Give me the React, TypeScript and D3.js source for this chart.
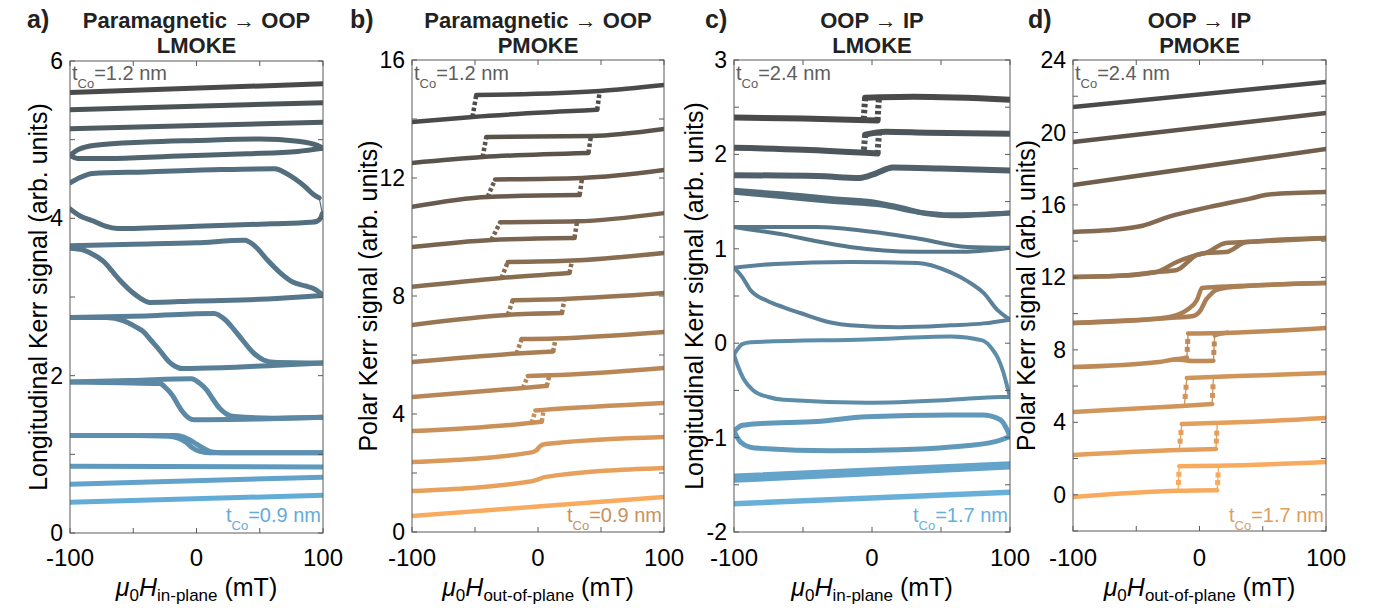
import React from 'react';
import * as d3 from 'd3';

type Pt = [number, number];
type Jump = [number, number, number, number, number]; // curve index, f1, v1, f2, v2

const fieldTicks = [-100, -50, 0, 50, 100];
const fieldLabels = [-100, 0, 100];

// ---------- Panel a : Paramagnetic -> OOP, LMOKE ----------
const aYTicks = [0, 1, 2, 3, 4, 5, 6];
const aYLabels = [0, 2, 4, 6];
const aCurves: Pt[][][] = [
  [[[-100, 5.60], [100, 5.71]]],
  [[[-100, 5.38], [100, 5.47]]],
  [[[-100, 5.14], [100, 5.22]]],
  [
    [[-100, 4.80], [-94, 4.87], [-80, 4.93], [-40, 4.97], [0, 4.99], [50, 5.01], [80, 4.98], [95, 4.93], [100, 4.89]],
    [[-100, 4.80], [-94, 4.76], [-70, 4.76], [-20, 4.79], [40, 4.82], [80, 4.85], [100, 4.89]],
  ],
  [
    [[-100, 4.45], [-92, 4.52], [-82, 4.57], [-40, 4.59], [20, 4.62], [62, 4.63], [70, 4.58], [78, 4.50], [86, 4.40], [92, 4.31], [97, 4.26]],
    [[-100, 4.12], [-92, 4.03], [-82, 3.97], [-72, 3.90], [-62, 3.87], [0, 3.90], [60, 3.93], [90, 3.95], [95, 3.96], [98, 4.0], [99.5, 4.06]],
  ],
  [
    [[-100, 3.65], [-50, 3.67], [0, 3.69], [38, 3.72], [46, 3.65], [56, 3.47], [66, 3.31], [76, 3.19], [86, 3.14], [92, 3.11], [97, 3.06], [100, 3.02]],
    [[-100, 3.62], [-90, 3.60], [-84, 3.56], [-74, 3.46], [-61, 3.22], [-50, 3.05], [-44, 2.98], [-37, 2.93], [0, 2.95], [50, 2.97], [82, 3.0], [100, 3.02]],
  ],
  [
    [[-100, 2.74], [-40, 2.76], [14, 2.79], [22, 2.72], [30, 2.58], [36, 2.46], [45, 2.29], [53, 2.20], [61, 2.17], [100, 2.16]],
    [[-100, 2.74], [-71, 2.74], [-58, 2.70], [-48, 2.62], [-42, 2.56], [-36, 2.45], [-29, 2.32], [-22, 2.18], [-17, 2.12], [-11, 2.09], [20, 2.10], [60, 2.13], [100, 2.16]],
  ],
  [
    [[-100, 1.92], [-50, 1.94], [-4, 1.96], [2, 1.91], [8, 1.82], [13, 1.70], [18, 1.59], [24, 1.51], [30, 1.48], [60, 1.46], [100, 1.47]],
    [[-100, 1.92], [-60, 1.91], [-29, 1.90], [-24, 1.84], [-19, 1.75], [-15, 1.64], [-11, 1.54], [-6, 1.46], [-2, 1.44], [50, 1.45], [100, 1.47]],
  ],
  [
    [[-100, 1.24], [-50, 1.24], [-16, 1.24], [-10, 1.22], [-5, 1.18], [0, 1.13], [5, 1.08], [12, 1.03], [20, 1.02], [100, 1.02]],
    [[-100, 1.24], [-50, 1.24], [-22, 1.23], [-15, 1.21], [-8, 1.15], [-3, 1.08], [2, 1.04], [10, 1.02], [100, 1.02]],
  ],
  [[[-100, 0.85], [100, 0.84]]],
  [[[-100, 0.62], [100, 0.71]]],
  [[[-100, 0.39], [100, 0.48]]],
];
const aJumps: Jump[] = [[4, 97, 4.26, 99.5, 4.06]];

// ---------- Panel b : Paramagnetic -> OOP, PMOKE ----------
const bYTicks = [0, 2, 4, 6, 8, 10, 12, 14, 16];
const bYLabels = [0, 4, 8, 12, 16];
const bCurves: Pt[][][] = [
  [[[-100, 13.90], [-52, 14.07], [47, 14.31]], [[-49, 14.81], [49, 14.95], [100, 15.15]]],
  [[[-100, 12.51], [-44, 12.71], [40, 12.85]], [[-41, 13.39], [42, 13.42], [100, 13.66]]],
  [[[-100, 11.02], [-40, 11.36], [33, 11.42]], [[-34, 11.95], [35, 12.0], [100, 12.27]]],
  [[[-100, 9.66], [-37, 9.90], [29, 9.97]], [[-30, 10.50], [31, 10.53], [100, 10.81]]],
  [[[-100, 8.31], [-29, 8.61], [25, 8.78]], [[-24, 9.15], [27, 9.20], [100, 9.46]]],
  [[[-100, 7.02], [-24, 7.36], [19, 7.42]], [[-20, 7.86], [21, 7.90], [100, 8.10]]],
  [[[-100, 5.76], [-17, 6.05], [12, 6.12]], [[-13, 6.54], [14, 6.56], [100, 6.78]]],
  [[[-100, 4.58], [-12, 4.88], [7, 4.95]], [[-8, 5.29], [9, 5.31], [100, 5.56]]],
  [[[-100, 3.42], [-5, 3.70], [3, 3.74]], [[-2, 4.12], [4.5, 4.14], [100, 4.37]]],
  [[[-100, 2.37], [-5, 2.70], [-1, 2.78], [2, 2.92], [6, 2.98], [100, 3.22]]],
  [[[-100, 1.39], [-5, 1.72], [0, 1.78], [5, 1.86], [100, 2.17]]],
  [[[-100, 0.54], [100, 1.19]]],
];
const bJumps: Jump[] = [
  [0, -52, 14.07, -49, 14.81], [0, 47, 14.31, 49, 14.95],
  [1, -44, 12.71, -41, 13.39], [1, 40, 12.85, 42, 13.42],
  [2, -40, 11.36, -34, 11.95], [2, 33, 11.42, 35, 12.0],
  [3, -37, 9.90, -30, 10.50], [3, 29, 9.97, 31, 10.53],
  [4, -29, 8.61, -24, 9.15], [4, 25, 8.78, 27, 9.20],
  [5, -24, 7.36, -20, 7.86], [5, 19, 7.42, 21, 7.90],
  [6, -17, 6.05, -13, 6.54], [6, 12, 6.12, 14, 6.56],
  [7, -12, 4.88, -8, 5.29], [7, 7, 4.95, 9, 5.31],
  [8, -5, 3.70, -2, 4.12], [8, 3, 3.74, 4.5, 4.14],
];

// ---------- Panel c : OOP -> IP, LMOKE ----------
const cYTicks = [-2, -1.5, -1, -0.5, 0, 0.5, 1, 1.5, 2, 2.5, 3];
const cYLabels = [-2, -1, 0, 1, 2, 3];
const cCurves: Pt[][][] = [
  [[[-100, 2.39], [-50, 2.38], [4, 2.36]], [[-5, 2.60], [30, 2.61], [100, 2.58]]],
  [[[-100, 2.07], [-50, 2.05], [4, 2.01]], [[-5, 2.21], [10, 2.24], [40, 2.23], [100, 2.22]]],
  [[[-100, 1.78], [-40, 1.77], [-9, 1.75], [3, 1.80], [15, 1.86], [50, 1.85], [100, 1.83]]],
  [
    [[-100, 1.60], [-64, 1.55], [-28, 1.50], [8, 1.46], [33, 1.39], [57, 1.36], [100, 1.38]],
    [[-100, 1.62], [-64, 1.58], [-28, 1.53], [0, 1.50], [20, 1.44], [40, 1.37], [57, 1.35], [100, 1.38]],
  ],
  [
    [[-100, 1.23], [-40, 1.23], [0, 1.18], [33, 1.11], [69, 1.02], [100, 1.01]],
    [[-100, 1.23], [-82, 1.19], [-64, 1.15], [-40, 1.08], [-16, 1.02], [33, 0.97], [69, 0.97], [100, 1.01]],
  ],
  [
    [[-100, 0.80], [-70, 0.84], [-16, 0.86], [33, 0.85], [57, 0.75], [70, 0.65], [81, 0.53], [91, 0.35], [98, 0.27], [100, 0.25]],
    [[-100, 0.80], [-94, 0.70], [-88, 0.56], [-76, 0.45], [-64, 0.38], [-52, 0.32], [-30, 0.22], [-16, 0.19], [20, 0.17], [57, 0.19], [81, 0.21], [100, 0.25]],
  ],
  [
    [[-100, -0.12], [-94, -0.01], [-88, 0.01], [-4, 0.04], [57, 0.07], [80, 0.03], [88, -0.08], [91, -0.15], [95, -0.30], [98, -0.46], [100, -0.57]],
    [[-100, -0.12], [-97, -0.25], [-93, -0.38], [-86, -0.50], [-75, -0.57], [-64, -0.60], [-4, -0.63], [57, -0.60], [93, -0.57], [100, -0.57]],
  ],
  [
    [[-100, -0.93], [-94, -0.87], [-80, -0.85], [-40, -0.83], [-4, -0.78], [57, -0.76], [80, -0.76], [93, -0.81], [98, -0.92], [100, -0.99]],
    [[-100, -0.93], [-95, -1.05], [-85, -1.11], [-30, -1.14], [20, -1.13], [57, -1.10], [90, -1.04], [100, -0.99]],
  ],
  [[[-100, -1.45], [100, -1.31]], [[-100, -1.41], [100, -1.28]]],
  [[[-100, -1.70], [100, -1.58]]],
];
const cJumps: Jump[] = [
  [0, -5, 2.60, -6, 2.37], [0, 4, 2.36, 5, 2.60],
  [1, -5, 2.21, -6, 2.02], [1, 4, 2.01, 5, 2.21],
];

// ---------- Panel d : OOP -> IP, PMOKE ----------
const dYTicks = [-2, 0, 2, 4, 6, 8, 10, 12, 14, 16, 18, 20, 22, 24];
const dYLabels = [0, 4, 8, 12, 16, 20, 24];
const dCurves: Pt[][][] = [
  [[[-100, 21.41], [100, 22.79]]],
  [[[-100, 19.47], [100, 21.07]]],
  [[[-100, 17.10], [100, 19.09]]],
  [[[-100, 14.51], [-60, 14.68], [-45, 14.85], [-24, 15.35], [8, 15.89], [40, 16.35], [55, 16.58], [100, 16.71]]],
  [
    [[-100, 12.02], [-60, 12.10], [-34, 12.30], [-18, 12.85], [-2, 13.24], [5, 13.35], [21, 13.90], [37, 13.95], [100, 14.17]],
    [[-100, 12.02], [-60, 12.10], [-34, 12.30], [-18, 12.41], [-2, 13.24], [5, 13.35], [21, 13.40], [37, 13.95], [100, 14.17]],
  ],
  [
    [[-100, 9.48], [-37, 9.70], [-24, 9.81], [-10, 10.20], [-2, 10.75], [2, 11.41], [30, 11.52], [100, 11.69]],
    [[-100, 9.48], [-37, 9.70], [-24, 9.76], [-5, 9.87], [1, 10.20], [5, 10.75], [8, 11.0], [13, 11.30], [26, 11.47], [100, 11.69]],
  ],
  [
    [[-100, 7.05], [-32, 7.33], [-18, 7.47], [-5, 7.38], [11, 7.40]],
    [[-20, 7.48], [-14, 7.52], [-10, 7.58]],
    [[-9, 8.90], [10, 8.92], [100, 9.21]],
    [[12, 8.80], [16, 8.88], [22, 8.95]],
  ],
  [[[-100, 4.57], [-14, 4.90], [10, 5.01]], [[-10, 6.45], [30, 6.55], [100, 6.72]]],
  [[[-100, 2.20], [-16, 2.47], [13, 2.53]], [[-14, 3.91], [30, 4.0], [100, 4.24]]],
  [[[-100, -0.12], [-17, 0.22], [14, 0.25]], [[-16, 1.58], [15, 1.60], [100, 1.81]]],
];
const dJumps: Jump[] = [
  [6, -9, 8.90, -10, 7.58], [6, 11, 7.40, 12, 8.80],
  [7, -10, 6.45, -12, 4.90], [7, 10, 5.01, 11, 6.45],
  [8, -14, 3.91, -16, 2.47], [8, 13, 2.53, 14, 3.85],
  [9, -16, 1.58, -17, 0.22], [9, 14, 0.25, 15, 1.53],
];

type PanelDef = {
  id: string; curves: Pt[][][]; jumps: Jump[];
  x0: number; x1: number; y0: number; y1: number;
  yDomain: [number, number]; yTicks: number[]; yLabels: number[];
  c0: string; c1: string; widths: number[] | number; jumpStyle: 'thin' | 'dash' | 'marker';
  label: string; labelX: number; title1: string; title2: string;
  yTitle: string; yTitleX: number; xSub: string;
  topLabel: string; botLabel: string; botColor: string;
};

const FONT = "'Liberation Sans', Arial, Helvetica, sans-serif";

function Panel({ p }: { p: PanelDef }) {
  const x = d3.scaleLinear().domain([-100, 100]).range([p.x0, p.x1]);
  const y = d3.scaleLinear().domain(p.yDomain).range([p.y1, p.y0]);
  const n = p.curves.length;
  const interp = d3.interpolateRgb(p.c0, p.c1);
  const color = (i: number) => interp(n > 1 ? i / (n - 1) : 0);
  const width = (i: number) => (Array.isArray(p.widths) ? p.widths[i] : p.widths);
  const line = d3.line<Pt>().x(d => x(d[0])).y(d => y(d[1])).curve(d3.curveMonotoneX);
  const cx = (p.x0 + p.x1) / 2;
  const cy = (p.y0 + p.y1) / 2;
  const clipId = `clip-${p.id}`;
  const frame = '#5a5a5a';
  const tl = 5;

  return (
    <g>
      <defs>
        <clipPath id={clipId}>
          <rect x={p.x0} y={p.y0} width={p.x1 - p.x0} height={p.y1 - p.y0} />
        </clipPath>
      </defs>
      <g clipPath={`url(#${clipId})`}>
        {p.curves.map((curve, ci) =>
          curve.map((br, bi) => (
            <path key={`${ci}-${bi}`} d={line(br) || ''} fill="none" stroke={color(ci)}
              strokeWidth={width(ci)} strokeLinecap="round" strokeLinejoin="round" />
          ))
        )}
        {p.jumps.map(([ci, f1, v1, f2, v2], k) => {
          const c = color(ci);
          if (p.jumpStyle === 'thin') {
            return <line key={k} x1={x(f1)} y1={y(v1)} x2={x(f2)} y2={y(v2)} stroke={c} strokeWidth={1.2} />;
          }
          if (p.jumpStyle === 'dash') {
            return <line key={k} x1={x(f1)} y1={y(v1)} x2={x(f2)} y2={y(v2)} stroke={c}
              strokeWidth={width(ci)} strokeDasharray="3.5 2.5" />;
          }
          const ts = [0.33, 0.66];
          return (
            <g key={k}>
              <line x1={x(f1)} y1={y(v1)} x2={x(f2)} y2={y(v2)} stroke={c} strokeWidth={1.3} />
              {ts.map(t => (
                <rect key={t} x={x(f1 + (f2 - f1) * t) - 2.5} y={y(v1 + (v2 - v1) * t) - 2.5}
                  width={5} height={5} fill={c} />
              ))}
            </g>
          );
        })}
      </g>
      <rect x={p.x0} y={p.y0} width={p.x1 - p.x0} height={p.y1 - p.y0} fill="none" stroke={frame} strokeWidth={1} />
      {fieldTicks.map(t => (
        <g key={`xt${t}`}>
          <line x1={x(t)} x2={x(t)} y1={p.y1} y2={p.y1 - tl} stroke={frame} />
          <line x1={x(t)} x2={x(t)} y1={p.y0} y2={p.y0 + tl} stroke={frame} />
        </g>
      ))}
      {p.yTicks.map(t => (
        <g key={`yt${t}`}>
          <line x1={p.x0} x2={p.x0 + tl} y1={y(t)} y2={y(t)} stroke={frame} />
          <line x1={p.x1} x2={p.x1 - tl} y1={y(t)} y2={y(t)} stroke={frame} />
        </g>
      ))}
      {fieldLabels.map(t => (
        <text key={`xl${t}`} x={x(t)} y={566} textAnchor="middle" fontSize={24} fill="#000">{t}</text>
      ))}
      {p.yLabels.map(t => (
        <text key={`yl${t}`} x={p.x0 - 7} y={y(t)} dy="0.35em" textAnchor="end" fontSize={23} fill="#000">{t}</text>
      ))}
      <text x={cx} y={596} textAnchor="middle" fontSize={25} fill="#000">
        <tspan fontStyle="italic">μ</tspan>
        <tspan fontSize={17} dy={5}>0</tspan>
        <tspan fontStyle="italic" dy={-5}>H</tspan>
        <tspan fontSize={17} dy={5}>{p.xSub}</tspan>
        <tspan dy={-5}>{' (mT)'}</tspan>
      </text>
      <text transform={`translate(${p.yTitleX},${cy}) rotate(-90)`} textAnchor="middle" dy="0.35em" fontSize={25} fill="#000">
        {p.yTitle}
      </text>
      <text x={p.labelX} y={28} fontSize={25} fontWeight="bold" fill="#222">{p.label}</text>
      <text x={cx} y={28} textAnchor="middle" fontSize={22} fontWeight="bold" fill="#222">{p.title1}</text>
      <text x={cx} y={53} textAnchor="middle" fontSize={22} fontWeight="bold" fill="#222">{p.title2}</text>
      <text x={p.x0 + 2} y={80} fontSize={20} fill="#5e5e5e">
        <tspan>t</tspan>
        <tspan fontSize={13} dy={8}>Co</tspan>
        <tspan dy={-8}>{`=${p.topLabel} nm`}</tspan>
      </text>
      <text x={p.x1 - 2} y={522} textAnchor="end" fontSize={20} fill={p.botColor}>
        <tspan>t</tspan>
        <tspan fontSize={13} dy={8}>Co</tspan>
        <tspan dy={-8}>{`=${p.botLabel} nm`}</tspan>
      </text>
    </g>
  );
}

export default function App() {
  const panels: PanelDef[] = [
    {
      id: 'a', curves: aCurves, jumps: aJumps, x0: 70, x1: 323, y0: 61, y1: 533,
      yDomain: [0, 6], yTicks: aYTicks, yLabels: aYLabels, c0: '#4a4a4a', c1: '#64acd8', widths: 5,
      jumpStyle: 'thin', label: 'a)', labelX: 27, title1: 'Paramagnetic → OOP', title2: 'LMOKE',
      yTitle: 'Longitudinal Kerr signal (arb. units)', yTitleX: 38, xSub: 'in-plane',
      topLabel: '1.2', botLabel: '0.9', botColor: '#64acd8',
    },
    {
      id: 'b', curves: bCurves, jumps: bJumps, x0: 412, x1: 664, y0: 60, y1: 532,
      yDomain: [0, 16], yTicks: bYTicks, yLabels: bYLabels, c0: '#4a4a4a', c1: '#f8aa5e', widths: 4.5,
      jumpStyle: 'dash', label: 'b)', labelX: 350, title1: 'Paramagnetic → OOP', title2: 'PMOKE',
      yTitle: 'Polar Kerr signal (arb. units)', yTitleX: 368, xSub: 'out-of-plane',
      topLabel: '1.2', botLabel: '0.9', botColor: '#c8925e',
    },
    {
      id: 'c', curves: cCurves, jumps: cJumps, x0: 734, x1: 1010, y0: 60, y1: 532,
      yDomain: [-2, 3], yTicks: cYTicks, yLabels: cYLabels, c0: '#4a4a4a', c1: '#68afda',
      widths: [6, 6, 6, 5, 4, 4, 4, 5, 5.5, 5.5],
      jumpStyle: 'dash', label: 'c)', labelX: 705, title1: 'OOP → IP', title2: 'LMOKE',
      yTitle: 'Longitudinal Kerr signal (arb. units)', yTitleX: 694, xSub: 'in-plane',
      topLabel: '2.4', botLabel: '1.7', botColor: '#68afda',
    },
    {
      id: 'd', curves: dCurves, jumps: dJumps, x0: 1073, x1: 1326, y0: 60, y1: 531,
      yDomain: [-2, 24], yTicks: dYTicks, yLabels: dYLabels, c0: '#4a4a4a', c1: '#f8aa5e', widths: 4.5,
      jumpStyle: 'marker', label: 'd)', labelX: 1028, title1: 'OOP → IP', title2: 'PMOKE',
      yTitle: 'Polar Kerr signal (arb. units)', yTitleX: 1026, xSub: 'out-of-plane',
      topLabel: '2.4', botLabel: '1.7', botColor: '#dc9e62',
    },
  ];
  return (
    <div style={{ position: 'absolute', left: 0, top: 0 }}>
      <svg width={1389} height={613} style={{ display: 'block', background: '#fff' }} fontFamily={FONT}>
        <rect width={1389} height={613} fill="#fff" />
        {panels.map(p => <Panel key={p.id} p={p} />)}
      </svg>
    </div>
  );
}
